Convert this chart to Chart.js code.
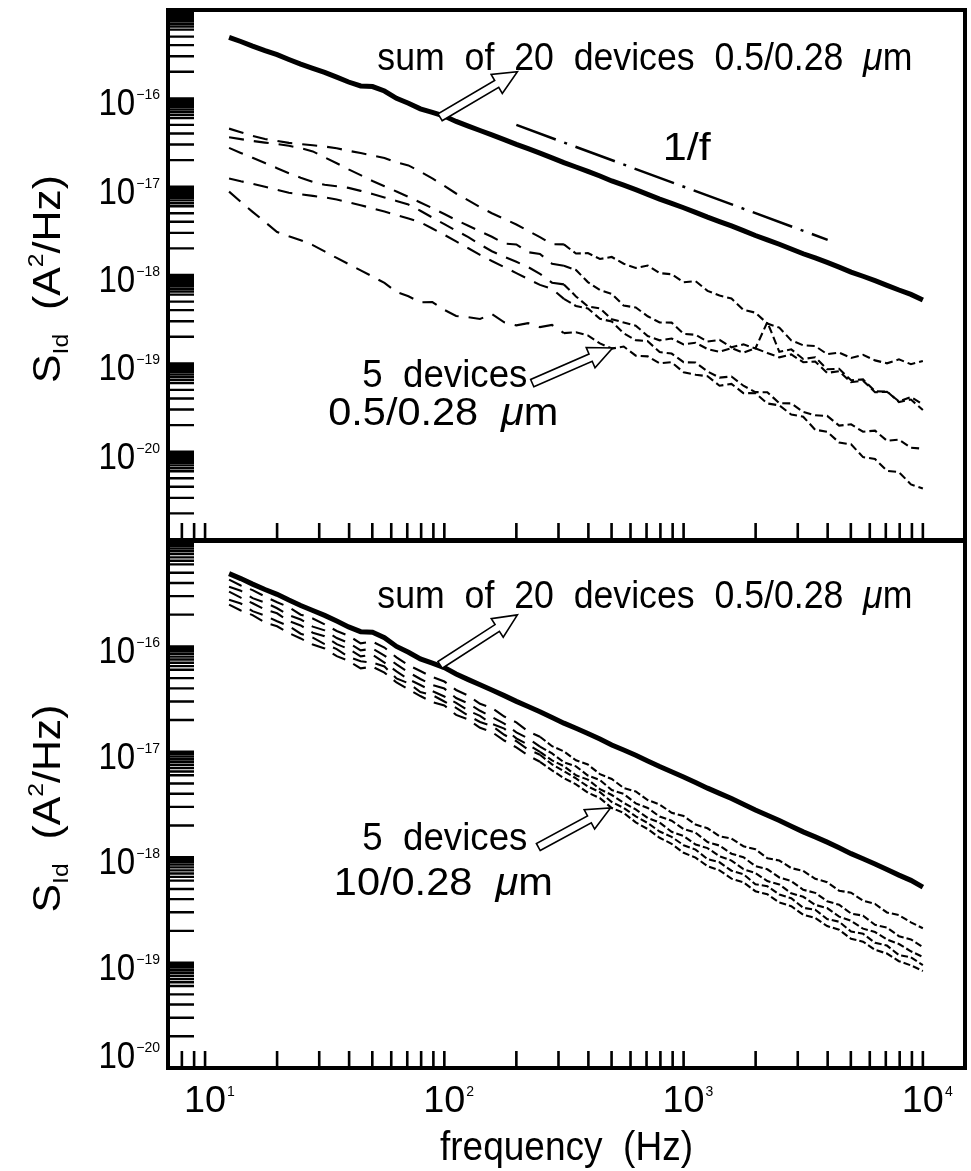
<!DOCTYPE html>
<html>
<head>
<meta charset="utf-8">
<script src="https://cdn.jsdelivr.net/npm/chart.js@4.4.1/dist/chart.umd.min.js"></script>
<style>
  body { margin: 0; background: #fff; }
  #wrap { position: relative; width: 971px; height: 1171px; }
  #wrap canvas { position: absolute; left: 0; top: 0; }
</style>
</head>
<body>
<div id="wrap">
  <canvas id="topChart" width="971" height="1171"></canvas>
  <canvas id="bottomChart" width="971" height="1171"></canvas>
</div>
<script>
// frequency grid (Hz), shared by every curve
const freq = [12.6, 14.1, 15.8, 17.8, 20.0, 22.4, 25.1, 28.2, 31.6, 35.5,
  39.8, 44.7, 50.1, 56.2, 63.1, 70.8, 79.4, 89.1, 100, 112,
  126, 141, 158, 178, 200, 224, 251, 282, 316, 355,
  398, 447, 501, 562, 631, 708, 794, 891, 1000, 1122,
  1259, 1413, 1585, 1778, 1995, 2239, 2512, 2818, 3162, 3548,
  3981, 4467, 5012, 5623, 6310, 7079, 7943, 8913, 10000];

// sum of 20 devices 0.5/0.28 um (same curve in both panels), A^2/Hz
const sumOf20 = [4.90e-16, 4.40e-16, 3.90e-16, 3.47e-16, 3.12e-16, 2.75e-16, 2.44e-16, 2.19e-16, 1.97e-16, 1.74e-16,
  1.53e-16, 1.38e-16, 1.36e-16, 1.21e-16, 1.00e-16, 8.8e-17, 7.6e-17, 6.95e-17, 6.3e-17, 5.48e-17,
  4.84e-17, 4.32e-17, 3.86e-17, 3.41e-17, 3.01e-17, 2.69e-17, 2.40e-17, 2.12e-17, 1.87e-17, 1.67e-17,
  1.49e-17, 1.32e-17, 1.16e-17, 1.04e-17, 9.26e-18, 8.19e-18, 7.24e-18, 6.46e-18, 5.77e-18, 5.11e-18,
  4.52e-18, 4.03e-18, 3.60e-18, 3.18e-18, 2.80e-18, 2.50e-18, 2.23e-18, 1.97e-18, 1.74e-18, 1.56e-18,
  1.39e-18, 1.23e-18, 1.08e-18, 9.68e-19, 8.63e-19, 7.64e-19, 6.76e-19, 6.03e-19, 5.2e-19];

// top panel: 5 devices 0.5/0.28 um
const smallDev1 = [4.54e-17, 4.13e-17, 3.76e-17, 3.47e-17, 3.30e-17, 3.13e-17, 3.04e-17, 2.94e-17, 2.85e-17, 2.72e-17,
  2.55e-17, 2.40e-17, 2.25e-17, 2.11e-17, 1.88e-17, 1.74e-17, 1.48e-17, 1.24e-17, 1.02e-17, 8.37e-18,
  6.98e-18, 5.86e-18, 5.00e-18, 4.32e-18, 3.73e-18, 3.16e-18, 2.68e-18, 2.23e-18, 2.22e-18, 1.75e-18,
  1.77e-18, 1.52e-18, 1.60e-18, 1.34e-18, 1.20e-18, 1.28e-18, 1.05e-18, 1.02e-18, 8.26e-19, 8.53e-19,
  6.61e-19, 5.85e-19, 5.42e-19, 4.03e-19, 3.75e-19, 2.82e-19, 2.54e-19, 1.82e-19, 1.60e-19, 1.57e-19,
  1.27e-19, 1.32e-19, 1.15e-19, 1.25e-19, 1.08e-19, 1.00e-19, 1.11e-19, 9.77e-20, 1.06e-19];
const smallDev2 = [3.62e-17, 3.45e-17, 3.29e-17, 3.15e-17, 3.04e-17, 2.90e-17, 2.73e-17, 2.51e-17, 2.15e-17, 1.84e-17,
  1.57e-17, 1.35e-17, 1.16e-17, 1.01e-17, 8.83e-18, 7.66e-18, 6.62e-18, 5.72e-18, 4.90e-18, 4.19e-18,
  3.61e-18, 3.12e-18, 2.71e-18, 2.27e-18, 2.22e-18, 1.81e-18, 1.73e-18, 1.34e-18, 1.27e-18, 1.14e-18,
  8.31e-19, 6.76e-19, 6.12e-19, 4.50e-19, 4.29e-19, 3.41e-19, 2.90e-19, 2.89e-19, 2.16e-19, 2.10e-19,
  1.77e-19, 1.84e-19, 1.52e-19, 1.64e-19, 1.47e-19, 2.93e-19, 1.35e-19, 1.44e-19, 1.12e-19, 1.17e-19,
  8.57e-20, 8.67e-20, 6.44e-20, 6.59e-20, 4.82e-20, 4.80e-20, 3.65e-20, 3.89e-20, 2.96e-20];
const smallDev3 = [2.75e-17, 2.41e-17, 2.12e-17, 1.85e-17, 1.62e-17, 1.42e-17, 1.26e-17, 1.13e-17, 1.05e-17, 1.01e-17,
  9.69e-18, 8.96e-18, 8.26e-18, 7.56e-18, 6.89e-18, 6.27e-18, 5.34e-18, 4.47e-18, 3.76e-18, 3.18e-18,
  2.69e-18, 2.22e-18, 1.86e-18, 1.61e-18, 1.41e-18, 1.23e-18, 1.03e-18, 8.18e-19, 7.83e-19, 5.72e-19,
  4.41e-19, 4.18e-19, 3.16e-19, 2.90e-19, 2.67e-19, 2.04e-19, 1.82e-19, 1.91e-19, 1.64e-19, 1.71e-19,
  1.45e-19, 1.35e-19, 1.49e-19, 1.32e-19, 1.48e-19, 1.31e-19, 1.17e-19, 1.26e-19, 1.03e-19, 1.05e-19,
  7.80e-20, 8.14e-20, 6.11e-20, 6.36e-20, 4.71e-20, 4.77e-20, 3.71e-20, 4.16e-20, 3.42e-20];
const smallDev4 = [1.24e-17, 1.15e-17, 1.08e-17, 9.97e-18, 9.22e-18, 8.53e-18, 8.18e-18, 7.87e-18, 7.56e-18, 7.14e-18,
  6.64e-18, 6.17e-18, 5.68e-18, 5.22e-18, 4.78e-18, 4.35e-18, 3.96e-18, 3.36e-18, 2.85e-18, 2.40e-18,
  2.01e-18, 1.69e-18, 1.44e-18, 1.23e-18, 1.05e-18, 9.01e-19, 7.73e-19, 6.96e-19, 5.36e-19, 4.46e-19,
  4.18e-19, 3.20e-19, 2.97e-19, 2.19e-19, 1.83e-19, 1.78e-19, 1.34e-19, 1.29e-19, 1.03e-19, 1.02e-19,
  8.10e-20, 6.89e-20, 7.10e-20, 5.58e-20, 4.72e-20, 4.71e-20, 3.53e-20, 3.52e-20, 2.82e-20, 2.58e-20,
  2.54e-20, 1.97e-20, 2.04e-20, 1.68e-20, 1.73e-20, 1.33e-20, 1.37e-20, 1.11e-20, 1.08e-20];
const smallDev5 = [8.78e-18, 6.73e-18, 5.19e-18, 3.98e-18, 3.07e-18, 2.74e-18, 2.48e-18, 2.18e-18, 1.85e-18, 1.56e-18,
  1.33e-18, 1.13e-18, 9.61e-19, 8.14e-19, 6.42e-19, 5.75e-19, 4.91e-19, 4.93e-19, 4.03e-19, 3.43e-19,
  3.33e-19, 3.18e-19, 3.61e-19, 2.91e-19, 2.69e-19, 2.85e-19, 2.57e-19, 2.72e-19, 2.20e-19, 2.25e-19,
  2.07e-19, 1.68e-19, 1.47e-19, 1.55e-19, 1.22e-19, 1.20e-19, 1.00e-19, 1.03e-19, 7.93e-20, 7.43e-20,
  7.15e-20, 5.58e-20, 5.85e-20, 4.60e-20, 4.59e-20, 3.51e-20, 3.34e-20, 2.63e-20, 2.49e-20, 1.77e-20,
  1.68e-20, 1.27e-20, 1.21e-20, 8.67e-21, 8.26e-21, 6.07e-21, 5.87e-21, 4.26e-21, 3.82e-21];

// 1/f guide line
const guideFreq = [200, 4000];
const guideS = [5.0e-17, 2.5e-18];

// bottom panel: 5 devices 10/0.28 um
const wideDev1 = [4.30e-16, 3.78e-16, 3.42e-16, 2.98e-16, 2.62e-16, 2.36e-16, 2.00e-16, 1.84e-16, 1.62e-16, 1.40e-16,
  1.26e-16, 1.07e-16, 1.11e-16, 9.75e-17, 7.86e-17, 6.63e-17, 5.84e-17, 5.12e-17, 4.64e-17, 3.86e-17,
  3.41e-17, 2.85e-17, 2.61e-17, 2.16e-17, 1.90e-17, 1.56e-17, 1.39e-17, 1.13e-17, 1.01e-17, 8.30e-18,
  7.57e-18, 6.14e-18, 5.52e-18, 4.53e-18, 4.21e-18, 3.49e-18, 3.16e-18, 2.64e-18, 2.46e-18, 2.04e-18,
  1.88e-18, 1.58e-18, 1.50e-18, 1.27e-18, 1.19e-18, 9.78e-19, 9.30e-19, 7.88e-19, 7.41e-19, 6.24e-19,
  5.80e-19, 4.81e-19, 4.60e-19, 3.87e-19, 3.60e-19, 2.99e-19, 2.82e-19, 2.41e-19, 2.12e-19];
const wideDev2 = [3.69e-16, 3.38e-16, 2.87e-16, 2.61e-16, 2.30e-16, 1.98e-16, 1.80e-16, 1.54e-16, 1.42e-16, 1.20e-16,
  1.08e-16, 9.18e-17, 9.52e-17, 8.18e-17, 6.75e-17, 5.68e-17, 4.91e-17, 4.30e-17, 3.98e-17, 3.24e-17,
  2.87e-17, 2.45e-17, 2.14e-17, 1.85e-17, 1.53e-17, 1.34e-17, 1.12e-17, 9.65e-18, 7.97e-18, 7.28e-18,
  5.96e-18, 5.39e-18, 4.34e-18, 3.98e-18, 3.24e-18, 2.93e-18, 2.43e-18, 2.22e-18, 1.85e-18, 1.71e-18,
  1.39e-18, 1.29e-18, 1.08e-18, 9.99e-19, 8.23e-19, 7.68e-19, 6.42e-19, 5.93e-19, 4.91e-19, 4.59e-19,
  3.82e-19, 3.54e-19, 2.92e-19, 2.79e-19, 2.28e-19, 2.15e-19, 1.78e-19, 1.66e-19, 1.40e-19];
const wideDev3 = [3.31e-16, 2.90e-16, 2.57e-16, 2.24e-16, 2.06e-16, 1.74e-16, 1.58e-16, 1.35e-16, 1.25e-16, 1.05e-16,
  9.46e-17, 8.05e-17, 8.35e-17, 7.02e-17, 5.79e-17, 4.88e-17, 4.30e-17, 3.77e-17, 3.35e-17, 2.91e-17,
  2.46e-17, 2.19e-17, 1.84e-17, 1.66e-17, 1.34e-17, 1.17e-17, 1.00e-17, 8.29e-18, 7.31e-18, 5.98e-18,
  5.45e-18, 4.42e-18, 3.89e-18, 3.27e-18, 2.84e-18, 2.36e-18, 2.13e-18, 1.74e-18, 1.59e-18, 1.32e-18,
  1.22e-18, 1.02e-18, 9.29e-19, 7.70e-19, 7.08e-19, 5.93e-19, 5.51e-19, 4.55e-19, 4.21e-19, 3.53e-19,
  3.29e-19, 2.73e-19, 2.49e-19, 2.10e-19, 1.95e-19, 1.66e-19, 1.50e-19, 1.28e-19, 1.13e-19];
const wideDev4 = [2.77e-16, 2.55e-16, 2.16e-16, 1.96e-16, 1.73e-16, 1.56e-16, 1.32e-16, 1.21e-16, 1.05e-16, 9.43e-17,
  7.94e-17, 7.22e-17, 7.01e-17, 6.44e-17, 4.97e-17, 4.47e-17, 3.69e-17, 3.45e-17, 3.00e-17, 2.61e-17,
  2.20e-17, 1.92e-17, 1.76e-17, 1.45e-17, 1.26e-17, 1.05e-17, 9.38e-18, 7.59e-18, 6.55e-18, 5.59e-18,
  4.68e-18, 4.14e-18, 3.34e-18, 2.93e-18, 2.44e-18, 2.11e-18, 1.75e-18, 1.56e-18, 1.30e-18, 1.18e-18,
  9.58e-19, 8.95e-19, 7.45e-19, 6.90e-19, 5.54e-19, 5.30e-19, 4.42e-19, 4.08e-19, 3.31e-19, 3.17e-19,
  2.59e-19, 2.44e-19, 1.97e-19, 1.88e-19, 1.54e-19, 1.45e-19, 1.18e-19, 1.12e-19, 9.46e-20];
const wideDev5 = [2.49e-16, 2.19e-16, 1.98e-16, 1.69e-16, 1.55e-16, 1.34e-16, 1.19e-16, 1.04e-16, 9.57e-17, 8.09e-17,
  7.28e-17, 6.19e-17, 6.42e-17, 5.64e-17, 4.55e-17, 3.92e-17, 3.38e-17, 2.96e-17, 2.75e-17, 2.24e-17,
  2.02e-17, 1.69e-17, 1.54e-17, 1.28e-17, 1.10e-17, 9.23e-18, 8.04e-18, 6.66e-18, 5.63e-18, 4.91e-18,
  4.10e-18, 3.63e-18, 2.93e-18, 2.63e-18, 2.14e-18, 1.85e-18, 1.53e-18, 1.34e-18, 1.10e-18, 9.91e-19,
  8.23e-19, 7.50e-19, 6.26e-19, 5.79e-19, 4.76e-19, 4.45e-19, 3.72e-19, 3.43e-19, 2.84e-19, 2.65e-19,
  2.22e-19, 2.05e-19, 1.68e-19, 1.58e-19, 1.32e-19, 1.22e-19, 1.03e-19, 9.41e-20, 8.32e-20];

// tick marks / labels
const xMinorSteps = [2, 3, 4, 5, 6, 7, 8, 9];
const yMinorSteps = [2, 3, 4, 5, 6, 6.5, 7, 7.5, 8, 8.5, 9, 9.5];
const xLabelPowers = [1, 2, 3, 4];
const yLabelPowers = [-16, -17, -18, -19, -20];

const FONT = '"Liberation Sans", Arial, sans-serif';

function pts(arr, xs) {
  xs = xs || freq;
  return xs.map((f, i) => ({ x: f, y: arr[i] }));
}

// long dashes at low frequency, short ragged ones where the spectra get noisy
function dashedSet(arr, dash, shortDash, from) {
  return {
    data: pts(arr), borderColor: '#000', borderWidth: 2.1, borderDash: dash, pointRadius: 0, fill: false,
    segment: { borderDash: c => (c.p0.parsed.x >= from ? shortDash : undefined) }
  };
}

function logTicks(min, max, steps) {
  const out = [];
  for (let e = Math.floor(Math.log10(min)) - 1; e <= Math.ceil(Math.log10(max)); e++) {
    [1].concat(steps).forEach(m => {
      const v = m * Math.pow(10, e);
      if (v >= min * 0.999 && v <= max * 1.001) out.push({ v: v, major: m === 1, e: e });
    });
  }
  return out;
}

// text drawn in pieces, squeezed to a given width
function drawFit(ctx, segs, x, y, width, align) {
  const font = s => (s.italic ? 'italic ' : '') + (s.size || 38) + 'px ' + FONT;
  let total = 0;
  segs.forEach(s => { ctx.font = font(s); s.w = ctx.measureText(s.t).width; total += s.w; });
  const sx = width / total;
  ctx.save();
  ctx.translate(align === 'center' ? x - width / 2 : x, y);
  ctx.scale(sx, 1);
  let cx = 0;
  segs.forEach(s => { ctx.font = font(s); ctx.fillText(s.t, cx, s.dy || 0); cx += s.w; });
  ctx.restore();
}

function powerLabel(ctx, e, x, y, align, sx) {
  const sup = (e < 0 ? '\u2212' : '') + Math.abs(e);
  ctx.save();
  ctx.font = '36px ' + FONT;
  const w10 = ctx.measureText('10').width * sx;
  ctx.font = '14px ' + FONT;
  const ws = ctx.measureText(sup).width;
  const x0 = align === 'right' ? x - w10 - ws - 1 : x - w10 / 2;
  ctx.translate(x0, y);
  ctx.scale(sx, 1);
  ctx.font = '36px ' + FONT;
  ctx.fillText('10', 0, 0);
  ctx.restore();
  ctx.font = '14px ' + FONT;
  ctx.fillText(sup, x0 + w10 + 1, y - 16);
}

function hollowArrow(ctx, x0, y0, x1, y1) {
  const dx = x1 - x0, dy = y1 - y0, len = Math.hypot(dx, dy);
  const ux = dx / len, uy = dy / len, nx = -uy, ny = ux;
  const sw = 4, hw = 11, hl = 24;
  const bx = x1 - ux * hl, by = y1 - uy * hl;
  const p = [[x0 + nx * sw, y0 + ny * sw], [bx + nx * sw, by + ny * sw], [bx + nx * hw, by + ny * hw], [x1, y1],
    [bx - nx * hw, by - ny * hw], [bx - nx * sw, by - ny * sw], [x0 - nx * sw, y0 - ny * sw]];
  ctx.beginPath();
  p.forEach((q, i) => i ? ctx.lineTo(q[0], q[1]) : ctx.moveTo(q[0], q[1]));
  ctx.closePath();
  ctx.fillStyle = '#fff';
  ctx.fill();
  ctx.lineWidth = 1.6;
  ctx.strokeStyle = '#000';
  ctx.stroke();
  ctx.fillStyle = '#000';
}

const panelPlugin = {
  id: 'panel',
  afterDatasetsDraw(chart, args, opts) {
    const { ctx, chartArea: a, scales: { x, y } } = chart;
    ctx.save();
    ctx.fillStyle = '#000';
    ctx.strokeStyle = '#000';
    ctx.textAlign = 'left';
    ctx.textBaseline = 'alphabetic';

    // arrows and notes
    opts.arrows.forEach(r => {
      hollowArrow(ctx, x.getPixelForValue(r.from[0]), y.getPixelForValue(r.from[1]),
        x.getPixelForValue(r.to[0]), y.getPixelForValue(r.to[1]));
    });
    opts.notes.forEach(n => {
      drawFit(ctx, n.segs, x.getPixelForValue(n.at[0]), y.getPixelForValue(n.at[1]), n.width, n.align);
    });

    // inward ticks
    ctx.lineWidth = 2.6;
    ctx.beginPath();
    logTicks(x.min, x.max, xMinorSteps).forEach(t => {
      const px = x.getPixelForValue(t.v);
      ctx.moveTo(px, a.bottom);
      ctx.lineTo(px, a.bottom - 17);
    });
    ctx.stroke();
    ctx.lineWidth = 2.4;
    ctx.beginPath();
    logTicks(y.min, y.max, yMinorSteps).forEach(t => {
      const py = y.getPixelForValue(t.v);
      ctx.moveTo(a.left, py);
      ctx.lineTo(a.left + 26, py);
    });
    ctx.stroke();

    // frame
    ctx.lineWidth = 4;
    ctx.strokeRect(a.left, a.top, a.right - a.left, a.bottom - a.top);

    // y tick labels
    logTicks(y.min, y.max, []).forEach(t => {
      if (yLabelPowers.indexOf(t.e) < 0) return;
      const py = Math.min(y.getPixelForValue(t.v) + 17, a.bottom);
      powerLabel(ctx, t.e, a.left - 8, py, 'right', 0.92);
    });

    // x tick labels
    if (opts.xLabels) {
      logTicks(x.min, x.max, []).forEach(t => {
        if (xLabelPowers.indexOf(t.e) < 0) return;
        powerLabel(ctx, t.e, x.getPixelForValue(t.v), a.bottom + 44, 'center', 1.05);
      });
      drawFit(ctx, [{ t: 'frequency  (Hz)', size: 40 }], (a.left + a.right) / 2, a.bottom + 92, 253, 'center');
    }

    // y title
    ctx.save();
    ctx.translate(a.left - 108, (a.top + a.bottom) / 2 + 4);
    ctx.rotate(-Math.PI / 2);
    drawFit(ctx, [{ t: 'S' }, { t: 'Id', size: 22, dy: 8 }, { t: '  (A' }, { t: '2', size: 22, dy: -17 }, { t: '/Hz)' }],
      0, 0, 208, 'center');
    ctx.restore();
    ctx.restore();
  }
};

const basePlugins = { legend: { display: false }, tooltip: { enabled: false } };

new Chart(document.getElementById('topChart'), {
  type: 'line',
  data: {
    datasets: [
      dashedSet(smallDev1, [15, 10], [8, 4], 300),
      dashedSet(smallDev2, [15, 10], [8, 4], 300),
      dashedSet(smallDev3, [15, 10], [8, 4], 300),
      dashedSet(smallDev4, [15, 10], [8, 4], 300),
      dashedSet(smallDev5, [15, 10], [8, 4], 300),
      { data: pts(guideS, guideFreq), borderColor: '#000', borderWidth: 2.5, borderDash: [42, 9, 3, 9], pointRadius: 0 },
      { data: pts(sumOf20), borderColor: '#000', borderWidth: 5, pointRadius: 0 }
    ]
  },
  options: {
    responsive: false,
    animation: false,
    events: [],
    layout: { padding: { left: 168, right: 6, top: 10, bottom: 631 } },
    scales: {
      x: { type: 'logarithmic', min: 7, max: 15000, display: false },
      y: { type: 'logarithmic', min: 1e-21, max: 1e-15, display: false }
    },
    plugins: Object.assign({}, basePlugins, {
      panel: {
        xLabels: false,
        arrows: [
          { from: [96, 6.1e-17], to: [202, 2.0e-16] },
          { from: [233, 5.97e-20], to: [505, 1.49e-19] }
        ],
        notes: [
          { segs: [{ t: 'sum  of  20  devices  0.5/0.28  ' }, { t: '\u03bc', italic: true }, { t: 'm' }], at: [52.5, 2.1e-16], width: 535, align: 'left' },
          { segs: [{ t: '1/f' }], at: [1030, 2.0e-17], width: 48, align: 'center' },
          { segs: [{ t: '5  devices' }], at: [100.5, 5.4e-20], width: 165, align: 'center' },
          { segs: [{ t: '0.5/0.28  ' }, { t: '\u03bc', italic: true }, { t: 'm' }], at: [99, 2.0e-20], width: 230, align: 'center' }
        ]
      }
    })
  },
  plugins: [panelPlugin]
});

new Chart(document.getElementById('bottomChart'), {
  type: 'line',
  data: {
    datasets: [
      dashedSet(wideDev1, [14, 9], [7, 3], 250),
      dashedSet(wideDev2, [14, 9], [7, 3], 250),
      dashedSet(wideDev3, [14, 9], [7, 3], 250),
      dashedSet(wideDev4, [14, 9], [7, 3], 250),
      dashedSet(wideDev5, [14, 9], [7, 3], 250),
      { data: pts(sumOf20), borderColor: '#000', borderWidth: 5, pointRadius: 0 }
    ]
  },
  options: {
    responsive: false,
    animation: false,
    events: [],
    layout: { padding: { left: 168, right: 6, top: 541, bottom: 103 } },
    scales: {
      x: { type: 'logarithmic', min: 7, max: 15000, display: false },
      y: { type: 'logarithmic', min: 1e-20, max: 1e-15, display: false }
    },
    plugins: Object.assign({}, basePlugins, {
      panel: {
        xLabels: true,
        arrows: [
          { from: [96, 6.67e-17], to: [202, 1.99e-16] },
          { from: [247, 1.25e-18], to: [495, 2.93e-18] }
        ],
        notes: [
          { segs: [{ t: 'sum  of  20  devices  0.5/0.28  ' }, { t: '\u03bc', italic: true }, { t: 'm' }], at: [52.5, 2.31e-16], width: 535, align: 'left' },
          { segs: [{ t: '5  devices' }], at: [100.5, 1.17e-18], width: 165, align: 'center' },
          { segs: [{ t: '10/0.28  ' }, { t: '\u03bc', italic: true }, { t: 'm' }], at: [99, 4.38e-19], width: 219, align: 'center' }
        ]
      }
    })
  },
  plugins: [panelPlugin]
});
</script>
</body>
</html>
